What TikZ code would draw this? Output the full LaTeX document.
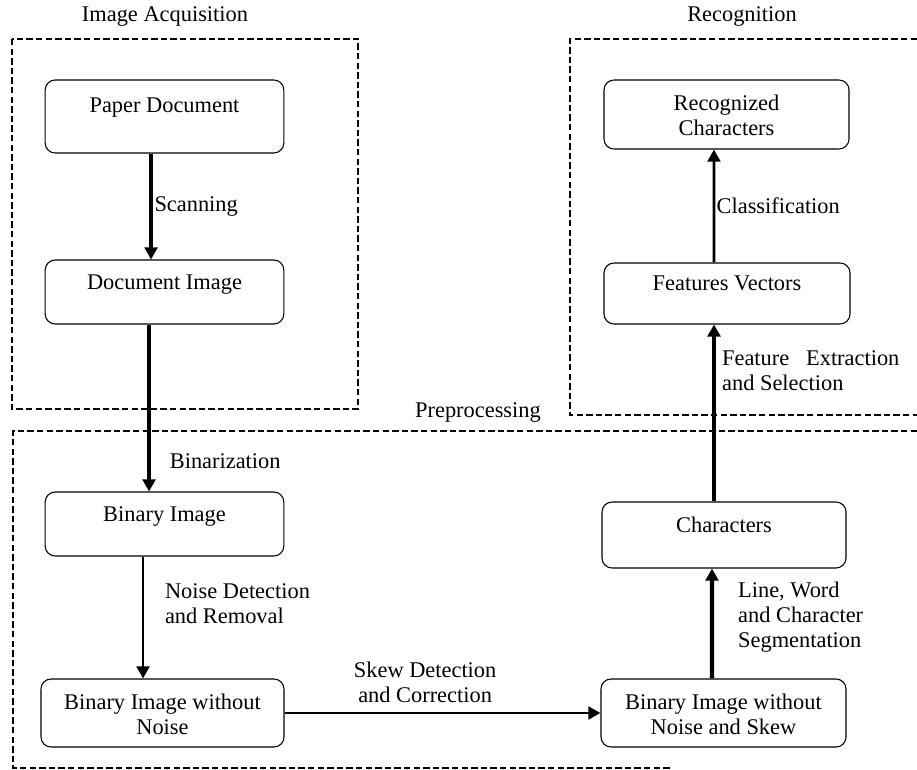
\documentclass[tikz,border=0pt]{standalone}
\usepackage{fontspec}
\setmainfont{Liberation Serif}
\usetikzlibrary{arrows.meta}

\begin{document}
\begin{tikzpicture}[
  x=0.75pt, y=-0.75pt,
  every node/.style={font=\fontsize{16.8}{18.8}\selectfont},
  stage/.style={draw, rounded corners=7.5pt, line width=0.8pt, minimum width=179pt, minimum height=48pt, inner sep=0pt},
  intext/.style={anchor=north, align=center, inner sep=0pt, yshift=-11.25pt},
  frame/.style={line width=2.2pt, dash pattern=on 4.8pt off 2.4pt},
  bigarr/.style={-{Triangle[length=9pt, width=9.5pt]}, line width=3.2pt},
  smallarr/.style={-{Triangle[length=9pt, width=9.5pt]}, line width=2pt},
  lbl/.style={align=left, inner sep=2pt}
]
  \useasboundingbox (0,0) rectangle (917,770);

  % 三个虚线框
  \draw[frame] (12,39) rectangle (358,409);
  \draw[frame] (917,39) -- (570,39) -- (570,415) -- (917,415);
  \draw[frame] (917,431) -- (13,431) -- (13,768) -- (670,768);
  \node (tacq) at (165,17) {Image Acquisition};
  \node (trec) at (742,17) {Recognition};
  \node (tpre) at (478,412) {Preprocessing};

  % 左列
  \node[stage, minimum height=54.75pt, label={[intext, yshift=-2.25pt]north:Paper Document}] (pd) at (164.5,116.5) {};
  \node[stage, label={[intext]north:Document Image}] (di) at (164.5,292) {};
  \node[stage, label={[intext]north:Binary Image}] (bi) at (164.5,524) {};
  \node[stage, minimum width=182.25pt, minimum height=51pt, label={[intext]north:{Binary Image without\\Noise}}] (bin) at (162.5,713) {};

  % 右列
  \node[stage, minimum width=183.75pt, minimum height=51pt, label={[intext]north:{Binary Image without\\Noise and Skew}}] (bins) at (723.5,713) {};
  \node[stage, minimum width=183pt, minimum height=49.5pt, label={[intext]north:Characters}] (ch) at (724,535) {};
  \node[stage, minimum width=184.5pt, minimum height=45.75pt, label={[intext, yshift=1.5pt]north:Features Vectors}] (fv) at (727,293.5) {};
  \node[stage, minimum width=183.75pt, minimum height=51.75pt, label={[intext]north:{Recognized\\Characters}}] (rc) at (726.5,114.5) {};

  % 箭头
  \draw[bigarr] ([xshift=-10.1pt]pd.south) -- node[lbl, right, inner sep=1pt] (lscan) {Scanning} ([xshift=-10.1pt]di.north);
  \draw[bigarr] ([xshift=-11.6pt]di.south) -- node[lbl, right, pos=0.82, xshift=12pt] (lbin) {Binarization} ([xshift=-11.6pt]bi.north);
  \draw[smallarr] ([xshift=-16.1pt]bi.south) -- node[lbl, right, pos=0.39, xshift=13.5pt] (lnoise) {Noise Detection\\and Removal} ([xshift=-14.6pt]bin.north);
  \draw[smallarr] (bin.east) -- node[lbl, above, pos=0.445, align=center, yshift=5pt] (lskew) {Skew Detection\\and Correction} (bins.west);
  \draw[bigarr] ([xshift=-8.6pt]bins.north) -- node[lbl, right, pos=0.56, xshift=16pt] (lseg) {Line, Word\\and Character\\Segmentation} ([xshift=-9pt]ch.south);
  \draw[bigarr] ([xshift=-7.5pt]ch.north) -- node[lbl, right, pos=0.74, xshift=2.5pt] (lfeat) {Feature~~~Extraction\\and Selection} ([xshift=-9.75pt]fv.south);
  \draw[smallarr] ([xshift=-9.75pt]fv.north) -- node[lbl, right, inner sep=1pt] (lclass) {Classification} ([xshift=-9.4pt]rc.south);
\end{tikzpicture}
\end{document}
